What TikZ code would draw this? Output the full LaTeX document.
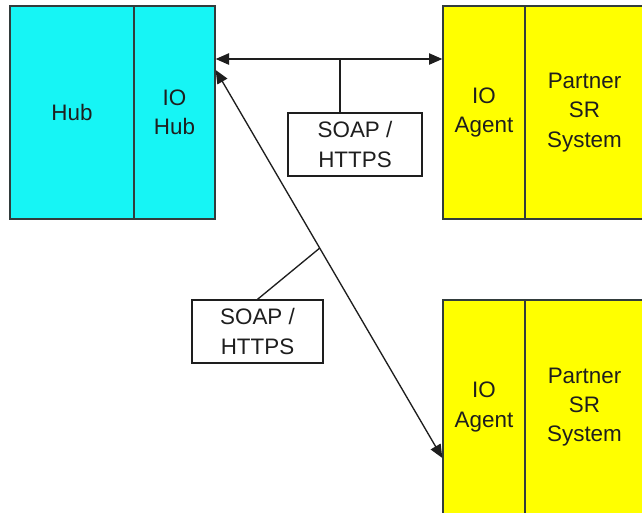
\documentclass[tikz,border=0pt]{standalone}
\usepackage{fontspec}
\setmainfont{Liberation Sans}
\usetikzlibrary{arrows.meta}
\definecolor{hubcyan}{RGB}{22,245,245}
\definecolor{agentyellow}{RGB}{255,255,0}
\definecolor{edgegrey}{RGB}{50,60,60}
\definecolor{inkgrey}{RGB}{30,30,30}
\begin{document}
\begin{tikzpicture}[x=0.75pt,y=-0.75pt,
  every node/.style={font=\fontsize{16.8pt}{22pt}\selectfont, text=inkgrey, align=center},
  part/.style={draw=edgegrey, line width=1pt, inner sep=0pt},
  hubpart/.style={part, fill=hubcyan},
  agentpart/.style={part, fill=agentyellow},
  labelbox/.style={draw=inkgrey, line width=1pt, fill=white, inner sep=0pt},
  link/.style={draw=inkgrey, line width=1pt},
  tip/.style={{Triangle[length=10pt,width=8.5pt]}-{Triangle[length=10pt,width=8.5pt]}}
]
\useasboundingbox (0,0) rectangle (642,512);
\begin{scope}
\clip (0,0) rectangle (642,512);

% Hub side
\node[hubpart, minimum width=124*0.75pt, minimum height=213*0.75pt] (hub) at (72,112.5) {Hub};
\node[hubpart, minimum width=81*0.75pt, minimum height=213*0.75pt] (iohub) at (174.5,112.5) {IO\\Hub};

% First partner
\node[agentpart, minimum width=82*0.75pt, minimum height=213*0.75pt] (agentA) at (484,112.5) {IO\\Agent};
\node[agentpart, minimum width=119*0.75pt, minimum height=213*0.75pt] (partnerA) at (584.5,112.5) {Partner\\SR\\System};

% Second partner
\node[agentpart, minimum width=82*0.75pt, minimum height=214*0.75pt] (agentB) at (484,407) {IO\\Agent};
\node[agentpart, minimum width=119*0.75pt, minimum height=214*0.75pt] (partnerB) at (584.5,407) {Partner\\SR\\System};

% Protocol labels
\node[labelbox, minimum width=134*0.75pt, minimum height=63*0.75pt] (soapA) at (355,144.5) {SOAP /\\HTTPS};
\node[labelbox, minimum width=131*0.75pt, minimum height=63*0.75pt] (soapB) at (257.5,331.5) {SOAP /\\HTTPS};

% Connectors
\coordinate (rowA) at (0,59);
\coordinate (diagTop) at (iohub.east |- 0,70);
\coordinate (diagBot) at (agentB.west |- 0,458);
\draw[link, tip] (iohub.east |- rowA) -- (agentA.west |- rowA);
\coordinate (tapA) at (340,59);
\draw[link] (tapA) -- (tapA |- soapA.north);
\draw[link, tip] (diagTop) -- coordinate[pos=0.459] (tapB) (diagBot);
\draw[link] (tapB) -- (soapB.north);
\end{scope}
\end{tikzpicture}
\end{document}
